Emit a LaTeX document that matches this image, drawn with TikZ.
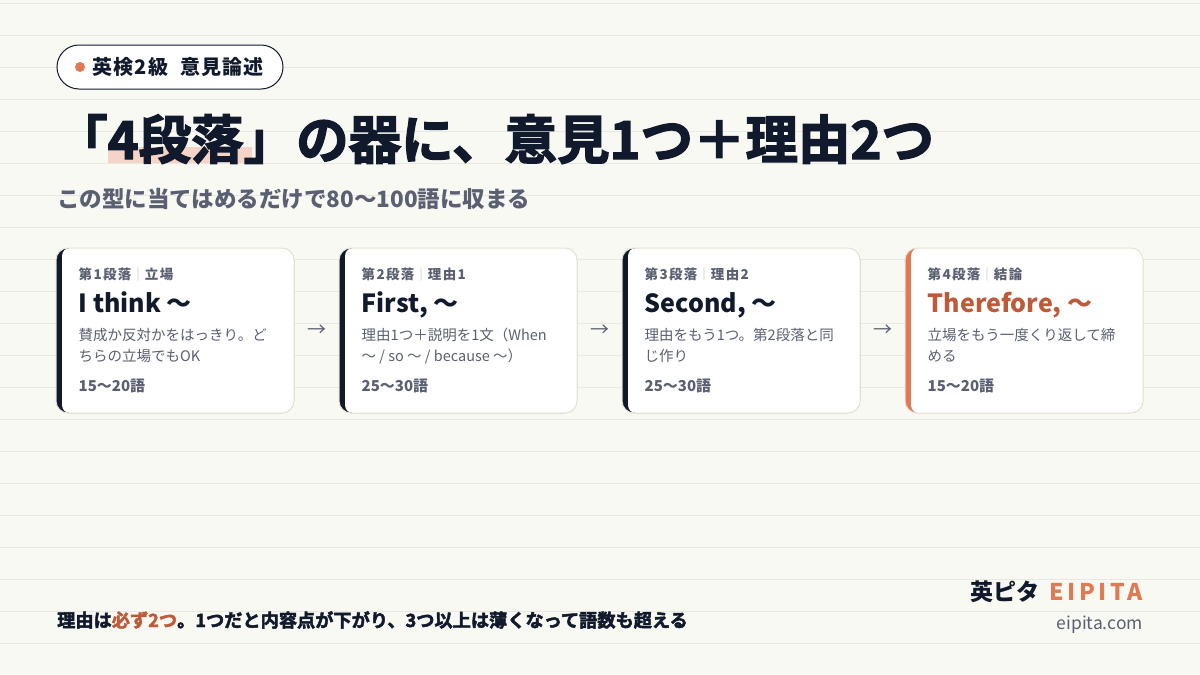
\documentclass[tikz,border=0pt]{standalone}
\usepackage{fontspec}
\setmainfont{Noto Sans CJK JP}
\newfontfamily\heavyfont{Noto Sans CJK JP Bold}[BoldFont={Noto Sans CJK JP Bold}, BoldFeatures={FakeBold=2.5}]
\usetikzlibrary{positioning}

\definecolor{paper}{HTML}{F9F9F4}
\definecolor{rulegray}{HTML}{E9E9E2}
\definecolor{ink}{HTML}{111A2C}
\definecolor{slate}{HTML}{5A6072}
\definecolor{coral}{HTML}{E07A55}
\definecolor{rust}{HTML}{BD5A3A}
\definecolor{blush}{HTML}{F4D4C7}
\definecolor{edge}{HTML}{E6E3D5}
\definecolor{barsep}{HTML}{C8CAD0}

\newcommand{\cardwidth}{238pt}
\newcommand{\cardheight}{165pt}
\newcommand{\cardsep}{\textcolor{barsep}{｜}}

\tikzstyle{ruleline} = [% ruled paper line
  draw=rulegray,
  line width=1pt
  ]
\tikzstyle{badge} = [% pill round the tag
  rectangle,
  rounded corners=22pt,
  minimum width=226pt,
  minimum height=44pt,
  draw=ink,
  line width=1pt,
  fill=white
  ]
\tikzstyle{dot} = [% orange dot
  circle,
  minimum size=10pt,
  inner sep=0pt,
  fill=coral
  ]
\tikzstyle{badgetext} = [% tag text
  anchor=west,
  inner sep=0pt,
  text=ink,
  font=\fontsize{20pt}{22pt}\selectfont\bfseries\addfontfeature{LetterSpace=6}
  ]
\tikzstyle{headline} = [% big title
  anchor=base west,
  inner sep=0pt,
  text=ink,
  font=\fontsize{52.5pt}{58pt}\selectfont\heavyfont\bfseries
  ]
\tikzstyle{subline} = [% line under the title
  anchor=base west,
  inner sep=0pt,
  text=slate,
  font=\fontsize{22.5pt}{26pt}\selectfont\bfseries
  ]
\tikzstyle{card} = [% paragraph card
  rectangle,
  rounded corners=12pt,
  minimum width=\cardwidth,
  minimum height=\cardheight,
  inner sep=0pt,
  draw=edge,
  line width=1pt
  ]
\tikzset{accent/.style={% coloured left edge of a card
  fill=#1,
  path picture={\fill[white, rounded corners=8pt]
    ([xshift=6pt]path picture bounding box.north west)
    rectangle (path picture bounding box.south east);}
  }}
\tikzstyle{cardhead} = [% small label of a card
  anchor=base west,
  inner sep=0pt,
  text=slate,
  font=\fontsize{13.5pt}{16pt}\selectfont\bfseries\addfontfeature{LetterSpace=10}
  ]
\tikzstyle{cardtitle} = [% english opener
  anchor=base west,
  inner sep=0pt,
  text=ink,
  font=\fontsize{25pt}{30pt}\selectfont\bfseries
  ]
\tikzstyle{cardtext} = [% explanation, placed by its last line
  anchor=base west,
  inner sep=0pt,
  align=left,
  text=slate,
  font=\fontsize{14.5pt}{21.5pt}\selectfont
  ]
\tikzstyle{cardcount} = [% word count
  anchor=base west,
  inner sep=0pt,
  text=slate,
  font=\fontsize{15pt}{18pt}\selectfont\bfseries
  ]
\tikzstyle{flow} = [% arrow between cards
  inner sep=0pt,
  text=slate,
  font=\fontsize{19pt}{22pt}\selectfont
  ]
\tikzstyle{note} = [% footer remark
  anchor=base west,
  inner sep=0pt,
  text=ink,
  font=\fontsize{18.2pt}{21pt}\selectfont\heavyfont\bfseries
  ]
\tikzstyle{brand} = [% logo
  anchor=base east,
  inner sep=0pt,
  text=ink,
  font=\fontsize{23pt}{26pt}\selectfont\bfseries
  ]
\tikzstyle{site} = [% url
  anchor=base east,
  inner sep=0pt,
  text=slate,
  font=\fontsize{17.5pt}{20pt}\selectfont
  ]

\begin{document}
\begin{tikzpicture}[x=1pt, y=-1pt, node distance=44pt]

%%% Paper
\useasboundingbox (0,0) rectangle (1200,675);
\fill[paper] (0,0) rectangle (1200,675);
\foreach \y in {3,35,...,675}
  \draw[ruleline] (0,\y) -- (1200,\y);

%%% Badge
\node[badge] (badge) at (170,67) {};
\node[dot] (dot) at (80,67) {};
\node[badgetext] (badgetext) [right=7pt of dot] {英検2級\hspace{0.6em}意見論述};

%%% Title
\fill[blush] (108,147) rectangle (252,163);
\node[headline] (headline) at (55,159) {「4段落」の器に、意見1つ＋理由2つ};
\node[subline] (subline) at (57,207) {この型に当てはめるだけで80〜100語に収まる};

%%% Cards
\node[card, accent=ink] (card1) at (175,330.5) {};
\node[card, accent=ink] (card2) [right=of card1] {};
\node[card, accent=ink] (card3) [right=of card2] {};
\node[card, accent=coral] (card4) [right=of card3] {};

%%% Card 1
\node[cardhead] (head1) at ([xshift=23pt, yshift=-32pt]card1.north west) {第1段落\cardsep 立場};
\node[cardtitle] (title1) at ([xshift=23pt, yshift=-64.5pt]card1.north west) {I think 〜};
\node[cardtext] (text1) at ([xshift=23pt, yshift=-114pt]card1.north west) {賛成か反対かをはっきり。ど\\ちらの立場でもOK};
\node[cardcount] (count1) at ([xshift=23pt, yshift=-143.5pt]card1.north west) {15〜20語};

%%% Card 2
\node[cardhead] (head2) at ([xshift=23pt, yshift=-32pt]card2.north west) {第2段落\cardsep 理由1};
\node[cardtitle] (title2) at ([xshift=23pt, yshift=-64.5pt]card2.north west) {First, 〜};
\node[cardtext] (text2) at ([xshift=23pt, yshift=-114pt]card2.north west) {理由1つ＋説明を1文（When\\〜 / so 〜 / because 〜）};
\node[cardcount] (count2) at ([xshift=23pt, yshift=-143.5pt]card2.north west) {25〜30語};

%%% Card 3
\node[cardhead] (head3) at ([xshift=23pt, yshift=-32pt]card3.north west) {第3段落\cardsep 理由2};
\node[cardtitle] (title3) at ([xshift=23pt, yshift=-64.5pt]card3.north west) {Second, 〜};
\node[cardtext] (text3) at ([xshift=23pt, yshift=-114pt]card3.north west) {理由をもう1つ。第2段落と同\\じ作り};
\node[cardcount] (count3) at ([xshift=23pt, yshift=-143.5pt]card3.north west) {25〜30語};

%%% Card 4
\node[cardhead] (head4) at ([xshift=23pt, yshift=-32pt]card4.north west) {第4段落\cardsep 結論};
\node[cardtitle, text=rust] (title4) at ([xshift=23pt, yshift=-64.5pt]card4.north west) {Therefore, 〜};
\node[cardtext] (text4) at ([xshift=23pt, yshift=-114pt]card4.north west) {立場をもう一度くり返して締\\める};
\node[cardcount] (count4) at ([xshift=23pt, yshift=-143.5pt]card4.north west) {15〜20語};

%%% Arrows
\path (card1) -- (card2) node[flow, midway] (flow12) {→};
\path (card2) -- (card3) node[flow, midway] (flow23) {→};
\path (card3) -- (card4) node[flow, midway] (flow34) {→};

%%% Footer
\node[note] (note) at (57,627) {理由は\textcolor{rust}{必ず2つ}。1つだと内容点が下がり、3つ以上は薄くなって語数も超える};
\node[brand] (brand) at (1143,600) {英ピタ\hspace{0.4em}\textcolor{coral}{\addfontfeature{LetterSpace=16}EIPITA}};
\node[site] (site) at (1143,629) {eipita.com};

\end{tikzpicture}
\end{document}
